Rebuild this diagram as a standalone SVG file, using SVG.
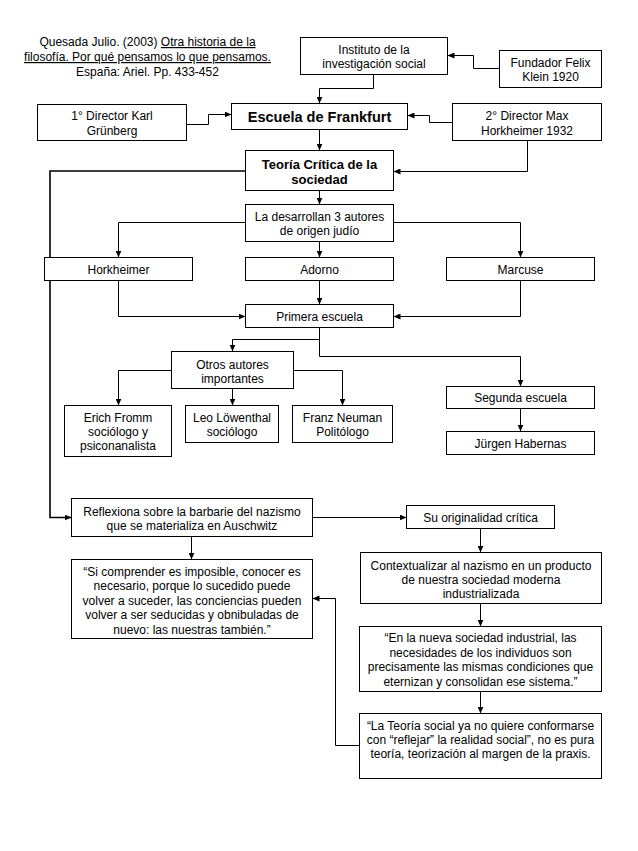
<svg xmlns="http://www.w3.org/2000/svg" width="638" height="851" viewBox="0 0 638 851">
<defs>
<marker id="arr" markerUnits="userSpaceOnUse" markerWidth="7" markerHeight="6" refX="7" refY="3" orient="auto">
<path d="M0,0 L7,3 L0,6 z" fill="#000"/>
</marker>
<style>
.box{fill:#fff;stroke:#000;stroke-width:1}
.t{font-family:"Liberation Sans",Arial,sans-serif;font-size:12px;text-anchor:middle;fill:#000}
.b{font-weight:bold}
.c{fill:none;stroke:#000;stroke-width:1;marker-end:url(#arr)}
.u{text-decoration:underline}
</style>
</defs>
<rect width="638" height="851" fill="#fff"/>
<g id="citation">
<text class="t" x="147.5" y="46">Quesada Julio. (2003) <tspan class="u">Otra historia de la</tspan></text>
<text class="t u" x="147.5" y="61">filosofía. Por qué pensamos lo que pensamos.</text>
<text class="t" x="147.5" y="75.5">España: Ariel. Pp. 433-452</text>
</g>
<g id="connectors">
<path class="c" d="M499.5,68.5 H473.5 V55.5 H447.5"/>
<path class="c" d="M373.5,74.5 V88.5 H319.5 V103.5"/>
<path class="c" d="M186.5,124.5 H208.5 V114.5 H231.5"/>
<path class="c" d="M452.5,122.5 H429.5 V115.5 H407.5"/>
<path class="c" d="M319.5,129.5 V150.5"/>
<path class="c" d="M527.5,140.5 V171.5 H393.5"/>
<path class="c" style="stroke-width:1.6" d="M245.5,171 H50 V517.5 H71.5"/>
<path class="c" d="M319.5,190.5 V204.5"/>
<path class="c" d="M245.5,222.5 H118.5 V257.5"/>
<path class="c" d="M319.5,241.5 V257.5"/>
<path class="c" d="M393.5,222.5 H520.5 V257.5"/>
<path class="c" d="M118.5,280.5 V316.5 H245.5"/>
<path class="c" d="M319.5,280.5 V304.5"/>
<path class="c" d="M520.5,280.5 V316.5 H393.5"/>
<path class="c" d="M319.5,327.5 V339.5 H232.5 V351.5"/>
<path class="c" d="M319.5,339.5 V356.5 H520.5 V386.5"/>
<path class="c" d="M171.5,370.5 H118.5 V405.5"/>
<path class="c" d="M232.5,388.5 V405.5"/>
<path class="c" d="M293.5,370.5 H342.5 V405.5"/>
<path class="c" d="M520.5,408.5 V431.5"/>
<path class="c" d="M312.5,517.5 H406.5"/>
<path class="c" d="M191.5,536.5 V559.5"/>
<path class="c" d="M480.5,528.5 V552.5"/>
<path class="c" d="M480.5,603.5 V626.5"/>
<path class="c" d="M480.5,691.5 V713.5"/>
<path class="c" d="M359.5,745.5 H335.5 V598.5 H312.5"/>
</g>
<g id="instituto">
<rect class="box" x="300.5" y="37.5" width="147" height="37"/>
<text class="t" x="374" y="53.5">Instituto de la</text>
<text class="t" x="374" y="67.5">investigación social</text>
</g>
<g id="fundador">
<rect class="box" x="499.5" y="50.5" width="102" height="37"/>
<text class="t" x="550.5" y="67">Fundador Felix</text>
<text class="t" x="550.5" y="81">Klein 1920</text>
</g>
<g id="karl">
<rect class="box" x="37.5" y="104.5" width="149" height="36"/>
<text class="t" x="112" y="119.5">1° Director Karl</text>
<text class="t" x="112" y="134.5">Grünberg</text>
</g>
<g id="escuela">
<rect class="box" x="231.5" y="103.5" width="176" height="26"/>
<text class="t b" style="font-size:14.5px" x="319.5" y="122">Escuela de Frankfurt</text>
</g>
<g id="max">
<rect class="box" x="452.5" y="103.5" width="149" height="37"/>
<text class="t" x="527" y="119.5">2° Director Max</text>
<text class="t" x="527" y="134.5">Horkheimer 1932</text>
</g>
<g id="teoria">
<rect class="box" x="245.5" y="150.5" width="148" height="40"/>
<text class="t b" style="font-size:13px" x="319.5" y="168.5">Teoría Crítica de la</text>
<text class="t b" style="font-size:13px" x="319.5" y="183.5">sociedad</text>
</g>
<g id="desarrollan">
<rect class="box" x="245.5" y="204.5" width="148" height="37"/>
<text class="t" x="319.5" y="220.5">La desarrollan 3 autores</text>
<text class="t" x="319.5" y="235">de origen judío</text>
</g>
<g id="horkheimer">
<rect class="box" x="44.5" y="257.5" width="148" height="23"/>
<text class="t" x="118.5" y="273.5">Horkheimer</text>
</g>
<g id="adorno">
<rect class="box" x="245.5" y="257.5" width="148" height="23"/>
<text class="t" x="319.5" y="273.5">Adorno</text>
</g>
<g id="marcuse">
<rect class="box" x="446.5" y="257.5" width="148" height="23"/>
<text class="t" x="520.5" y="273.5">Marcuse</text>
</g>
<g id="primera">
<rect class="box" x="245.5" y="304.5" width="148" height="23"/>
<text class="t" x="319.5" y="320.5">Primera escuela</text>
</g>
<g id="otros">
<rect class="box" x="171.5" y="351.5" width="122" height="37"/>
<text class="t" x="232.5" y="368.5">Otros autores</text>
<text class="t" x="232.5" y="382.5">importantes</text>
</g>
<g id="fromm">
<rect class="box" x="64.5" y="405.5" width="107" height="51"/>
<text class="t" x="118" y="421.5">Erich Fromm</text>
<text class="t" x="118" y="436">sociólogo y</text>
<text class="t" x="118" y="450">psiconanalista</text>
</g>
<g id="lowenthal">
<rect class="box" x="185.5" y="405.5" width="93" height="37"/>
<text class="t" x="232" y="421.5">Leo Löwenthal</text>
<text class="t" x="232" y="435.5">sociólogo</text>
</g>
<g id="neuman">
<rect class="box" x="292.5" y="405.5" width="100" height="37"/>
<text class="t" x="342.5" y="421.5">Franz Neuman</text>
<text class="t" x="342.5" y="435.5">Politólogo</text>
</g>
<g id="segunda">
<rect class="box" x="446.5" y="386.5" width="148" height="22"/>
<text class="t" x="520.5" y="401.5">Segunda escuela</text>
</g>
<g id="habernas">
<rect class="box" x="446.5" y="431.5" width="148" height="23"/>
<text class="t" x="520.5" y="447.5">Jürgen Habernas</text>
</g>
<g id="reflexiona">
<rect class="box" x="71.5" y="498.5" width="241" height="38"/>
<text class="t" x="192" y="516">Reflexiona sobre la barbarie del nazismo</text>
<text class="t" x="192" y="530">que se materializa en Auschwitz</text>
</g>
<g id="originalidad">
<rect class="box" x="406.5" y="505.5" width="148" height="23"/>
<text class="t" x="480.5" y="521.5">Su originalidad crítica</text>
</g>
<g id="si-comprender">
<rect class="box" x="71.5" y="559.5" width="241" height="79"/>
<text class="t" x="192" y="575.5">“Si comprender es imposible, conocer es</text>
<text class="t" x="192" y="590">necesario, porque lo sucedido puede</text>
<text class="t" x="192" y="604.5">volver a suceder, las conciencias pueden</text>
<text class="t" x="192" y="619">volver a ser seducidas y obnibuladas de</text>
<text class="t" x="192" y="633.5">nuevo: las nuestras también.”</text>
</g>
<g id="contextualizar">
<rect class="box" x="360.5" y="552.5" width="241" height="51"/>
<text class="t" x="481" y="569.5">Contextualizar al nazismo en un producto</text>
<text class="t" x="481" y="583.5">de nuestra sociedad moderna</text>
<text class="t" x="481" y="597.5">industrializada</text>
</g>
<g id="nueva-sociedad">
<rect class="box" x="359.5" y="626.5" width="242" height="65"/>
<text class="t" x="480.5" y="642">“En la nueva sociedad industrial, las</text>
<text class="t" x="480.5" y="657">necesidades de los individuos son</text>
<text class="t" x="480.5" y="671">precisamente las mismas condiciones que</text>
<text class="t" x="480.5" y="686">eternizan y consolidan ese sistema.”</text>
</g>
<g id="teoria-social">
<rect class="box" x="359.5" y="713.5" width="242" height="65"/>
<text class="t" x="480.5" y="729.5">“La Teoría social ya no quiere conformarse</text>
<text class="t" x="480.5" y="743.5">con “reflejar” la realidad social”, no es pura</text>
<text class="t" x="480.5" y="757.5">teoría, teorización al margen de la praxis.</text>
</g>
</svg>
